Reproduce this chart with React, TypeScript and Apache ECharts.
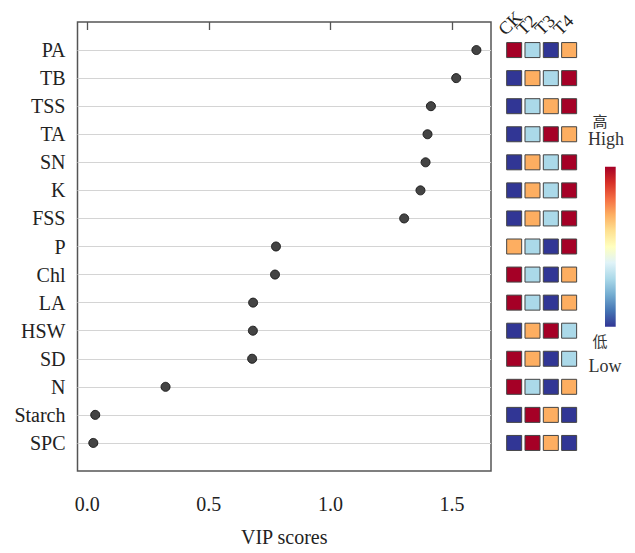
import React, { useEffect, useRef } from "react";
import * as echarts from "echarts";

const variables = ["PA", "TB", "TSS", "TA", "SN", "K", "FSS", "P", "Chl", "LA", "HSW", "SD", "N", "Starch", "SPC"];
const vipScores = [1.6, 1.517, 1.413, 1.399, 1.391, 1.37, 1.303, 0.776, 0.772, 0.682, 0.681, 0.678, 0.322, 0.033, 0.025];
const treatments = ["CK", "T2", "T3", "T4"];
// relative level per treatment (1 = low ... 4 = high)
const levelCK = [4, 1, 1, 1, 1, 1, 1, 3, 4, 4, 1, 4, 4, 1, 1];
const levelT2 = [2, 3, 2, 2, 3, 3, 3, 2, 2, 2, 3, 3, 2, 4, 4];
const levelT3 = [1, 2, 3, 4, 2, 2, 2, 1, 1, 1, 4, 1, 1, 3, 3];
const levelT4 = [3, 4, 4, 3, 4, 4, 4, 4, 3, 3, 2, 2, 3, 1, 1];
const xTicks = [0, 0.5, 1.0, 1.5];

const levelColors: Record<number, string> = { 1: "#313695", 2: "#abd9e9", 3: "#fdae61", 4: "#a50026" };
const rdylbu = ["#a50026", "#d73027", "#f46d43", "#fdae61", "#fee090", "#ffffbf", "#e0f3f8", "#abd9e9", "#74add1", "#4575b4", "#313695"];

const SERIF = "Liberation Serif, Times New Roman, serif";

export default function App() {
  const ref = useRef<HTMLDivElement>(null);
  useEffect(() => {
    if (!ref.current) return;
    const chart = echarts.init(ref.current, null, { renderer: "svg" });
    const levels = [levelCK, levelT2, levelT3, levelT4];
    const heatData: number[][] = [];
    levels.forEach((col, ci) => col.forEach((lv, ri) => heatData.push([ci, ri + 1, lv])));
    const dotData = vipScores.map((v, i) => [v, i + 1]);

    const top = 22;
    const height = 449;

    chart.setOption({
      animation: false,
      backgroundColor: "#fff",
      grid: [
        { left: 77.5, top, width: 413.5, height, show: true, borderColor: "#555", borderWidth: 1.5, backgroundColor: "transparent" },
        { left: 505, top, width: 73.3, height, show: false },
        { left: 492, top: 36, width: 73.3, height: 2, show: false },
      ],
      xAxis: [
        {
          gridIndex: 0,
          type: "value",
          min: -0.04,
          max: 1.66,
          axisLine: { show: false },
          splitLine: { show: false },
          axisTick: { show: true, length: 8, customValues: xTicks, lineStyle: { color: "#555", width: 1.3 } },
          axisLabel: {
            customValues: xTicks,
            formatter: (v: number) => v.toFixed(1),
            fontSize: 20,
            fontFamily: SERIF,
            color: "#222",
            margin: 23,
          },
          name: "VIP scores",
          nameLocation: "middle",
          nameGap: 56,
          nameTextStyle: { fontSize: 20, fontFamily: SERIF, color: "#222" },
        },
        {
          gridIndex: 1,
          type: "category",
          data: treatments,
          show: false,
        },
        {
          gridIndex: 2,
          type: "category",
          position: "top",
          data: treatments,
          axisLine: { show: false },
          axisTick: { show: false },
          splitLine: { show: false },
          axisLabel: { rotate: 45, fontSize: 18, fontFamily: SERIF, color: "#222", margin: 4, interval: 0 },
        },
      ],
      yAxis: [
        {
          gridIndex: 0,
          type: "value",
          min: 0,
          max: 16,
          interval: 1,
          inverse: true,
          axisLine: { show: false },
          axisTick: { show: false },
          axisLabel: {
            formatter: (v: number) => variables[v - 1] ?? "",
            fontSize: 20,
            fontFamily: SERIF,
            color: "#222",
            margin: 12,
          },
          splitLine: { show: true, showMinLine: false, showMaxLine: false, lineStyle: { color: "#d4d4d4", width: 1 } },
        },
        {
          gridIndex: 1,
          type: "value",
          min: 0,
          max: 16,
          interval: 1,
          inverse: true,
          show: false,
        },
        {
          gridIndex: 2,
          type: "value",
          show: false,
        },
      ],
      series: [
        {
          type: "scatter",
          xAxisIndex: 0,
          yAxisIndex: 0,
          data: dotData,
          symbol: "circle",
          symbolSize: 9,
          itemStyle: { color: "#444", borderColor: "#1e1e1e", borderWidth: 1, opacity: 1 },
          z: 5,
        },
        {
          type: "scatter",
          xAxisIndex: 1,
          yAxisIndex: 1,
          data: heatData,
          symbol: "rect",
          symbolSize: 15,
          itemStyle: {
            color: (p: any) => levelColors[p.data[2]],
            borderColor: "#444",
            borderWidth: 1,
            opacity: 1,
          },
        },
      ],
      graphic: [
        {
          type: "rect",
          shape: { x: 605, y: 166.7, width: 10.7, height: 160 },
          style: {
            fill: new echarts.graphic.LinearGradient(
              0, 0, 0, 1,
              rdylbu.map((c, i) => ({ offset: i / (rdylbu.length - 1), color: c }))
            ),
          },
        },
        { type: "text", x: 600, y: 120, style: { text: "高", font: "15px 'Noto Sans CJK SC'", lineHeight: 15, fill: "#333", align: "center", verticalAlign: "middle" } },
        { type: "text", x: 606, y: 139, style: { text: "High", font: `18px ${SERIF}`, lineHeight: 16, fill: "#333", align: "center", verticalAlign: "middle" } },
        { type: "text", x: 600, y: 340, style: { text: "低", font: "15px 'Noto Sans CJK SC'", lineHeight: 15, fill: "#333", align: "center", verticalAlign: "middle" } },
        { type: "text", x: 605, y: 366, style: { text: "Low", font: `18px ${SERIF}`, lineHeight: 16, fill: "#333", align: "center", verticalAlign: "middle" } },
      ],
    });
    return () => chart.dispose();
  }, []);
  return <div ref={ref} style={{ position: "fixed", left: 0, top: 0, width: 635, height: 553 }} />;
}
